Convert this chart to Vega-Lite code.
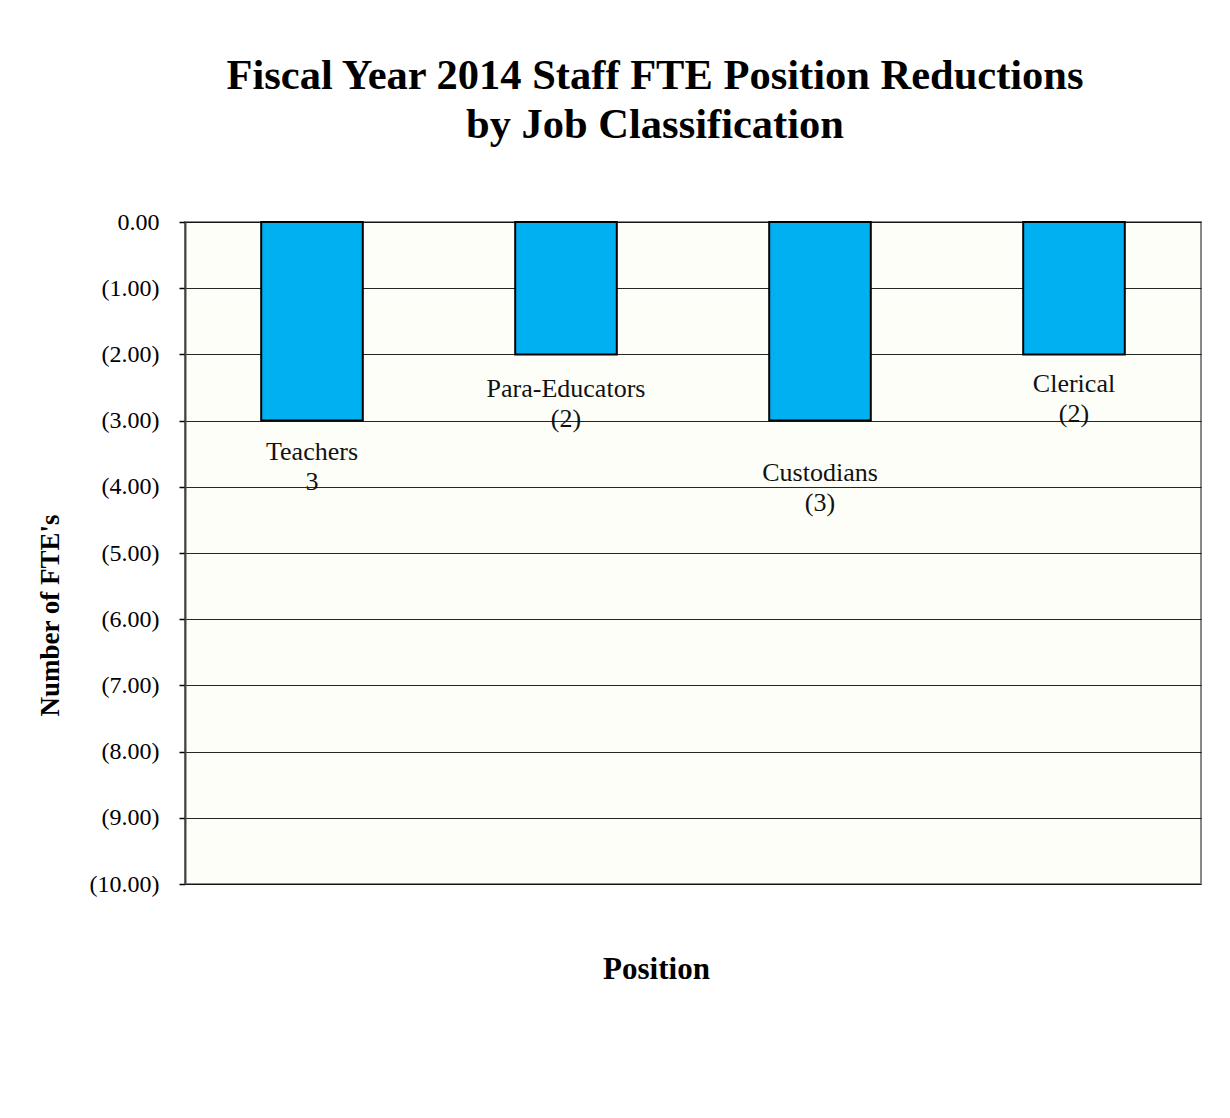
{
  "$schema": "https://vega.github.io/schema/vega-lite/v6.json",
  "autosize": "none",
  "width": 1016,
  "height": 662,
  "padding": {"left": 185, "top": 222, "right": 29, "bottom": 234},
  "background": "white",
  "title": {
    "text": ["Fiscal Year 2014 Staff FTE Position Reductions", "by Job Classification"],
    "font": "Liberation Serif",
    "fontSize": 42.5,
    "fontWeight": "bold",
    "color": "black",
    "anchor": "middle",
    "frame": "group",
    "dx": -38,
    "lineHeight": 49,
    "offset": 64
  },
  "config": {
    "view": {"fill": "#FEFEF9", "stroke": "#888888", "strokeWidth": 2}
  },
  "data": {
    "values": [
      {"position": "Teachers", "fte": -3, "label": "Teachers\n3", "labelAt": -3.6},
      {"position": "Para-Educators", "fte": -2, "label": "Para-Educators\n(2)", "labelAt": -2.64},
      {"position": "Custodians", "fte": -3, "label": "Custodians\n(3)", "labelAt": -3.91},
      {"position": "Clerical", "fte": -2, "label": "Clerical\n(2)", "labelAt": -2.57}
    ]
  },
  "encoding": {
    "x": {
      "field": "position",
      "type": "nominal",
      "sort": null,
      "scale": {"paddingInner": 0.6, "paddingOuter": 0.3},
      "axis": {
        "title": "Position",
        "titleFont": "Liberation Serif",
        "titleFontSize": 31,
        "titleFontWeight": "bold",
        "titleColor": "black",
        "titleX": 471,
        "titleY": 94,
        "titleBaseline": "alphabetic",
        "labels": false,
        "ticks": false,
        "domain": false,
        "grid": false
      }
    }
  },
  "layer": [
    {
      "mark": {"type": "bar", "fill": "#00B0F0", "stroke": "black", "strokeWidth": 2},
      "encoding": {
        "y": {
          "field": "fte",
          "type": "quantitative",
          "scale": {"domain": [-10, 0], "nice": false, "zero": false},
          "axis": {
            "title": "Number of FTE's",
            "titleFont": "Liberation Serif",
            "titleFontSize": 27,
            "titleFontWeight": "bold",
            "titleColor": "black",
            "titleAngle": -90,
            "titleAlign": "center",
            "titleBaseline": "middle",
            "titleX": -135,
            "titleY": 393,
            "values": [0, -1, -2, -3, -4, -5, -6, -7, -8, -9, -10],
            "labelExpr": "datum.value < 0 ? '(' + format(-datum.value, '.2f') + ')' : format(datum.value, '.2f')",
            "labelFont": "Liberation Serif",
            "labelFontSize": 24,
            "labelColor": "black",
            "labelPadding": 20,
            "tickColor": "black",
            "tickSize": 6,
            "tickWidth": 1.5,
            "domainColor": "#444444",
            "domainWidth": 2,
            "grid": true,
            "gridColor": "black",
            "gridWidth": 1,
            "gridOpacity": 0.85
          }
        }
      }
    },
    {
      "mark": {
        "type": "text",
        "font": "Liberation Serif",
        "fontSize": 26,
        "color": "#111111",
        "align": "center",
        "baseline": "alphabetic",
        "lineBreak": "\n",
        "lineHeight": 30
      },
      "encoding": {
        "y": {"field": "labelAt", "type": "quantitative"},
        "text": {"field": "label"}
      }
    }
  ]
}
